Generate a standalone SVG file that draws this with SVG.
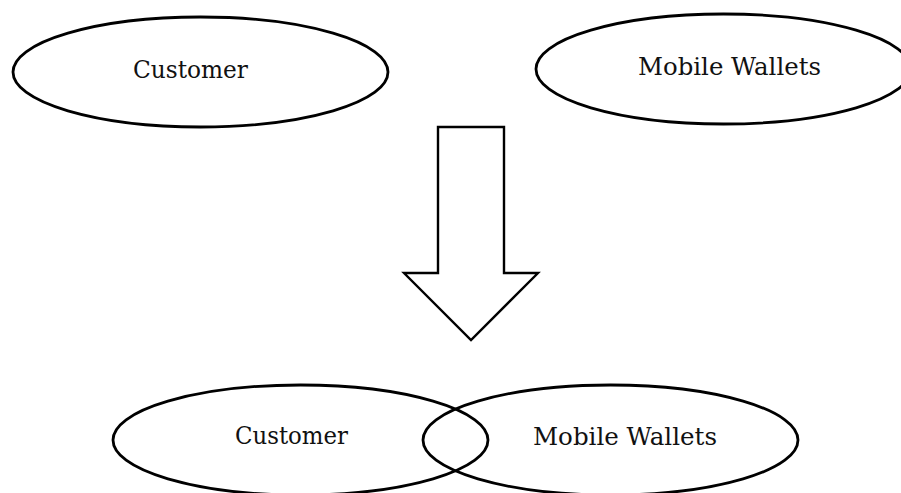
<svg xmlns="http://www.w3.org/2000/svg" width="901" height="493" viewBox="0 0 901 493">
  <style>
    .oval { fill: none; stroke: #000; stroke-width: 2.8; }
    .label { font-family: "DejaVu Serif", "Liberation Serif", serif; font-size: 24px; fill: #111; text-anchor: middle; }
    .arrow { fill: #fff; stroke: #000; stroke-width: 2.4; stroke-linejoin: miter; }
  </style>
  <rect width="901" height="493" fill="#fff"/>

  <!-- separate sets -->
  <g id="customer-top">
    <ellipse class="oval" cx="200.5" cy="72" rx="187.5" ry="55"/>
    <text class="label" x="190.5" y="78" textLength="115" lengthAdjust="spacingAndGlyphs">Customer</text>
  </g>
  <g id="wallets-top">
    <ellipse class="oval" cx="723.5" cy="69" rx="187.5" ry="55"/>
    <text class="label" x="729.5" y="75" textLength="183" lengthAdjust="spacingAndGlyphs">Mobile Wallets</text>
  </g>

  <!-- transition arrow -->
  <g id="connectors">
    <polygon class="arrow" points="438,127 504,127 504,273 538,273 471,340 404,273 438,273"/>
  </g>

  <!-- overlapping sets -->
  <g id="customer-bottom">
    <ellipse class="oval" cx="300.5" cy="440" rx="187.5" ry="55"/>
    <text class="label" x="291.5" y="444" textLength="113" lengthAdjust="spacingAndGlyphs">Customer</text>
  </g>
  <g id="wallets-bottom">
    <ellipse class="oval" cx="610.5" cy="440" rx="187.5" ry="55"/>
    <text class="label" x="625" y="445" textLength="184" lengthAdjust="spacingAndGlyphs">Mobile Wallets</text>
  </g>
</svg>
